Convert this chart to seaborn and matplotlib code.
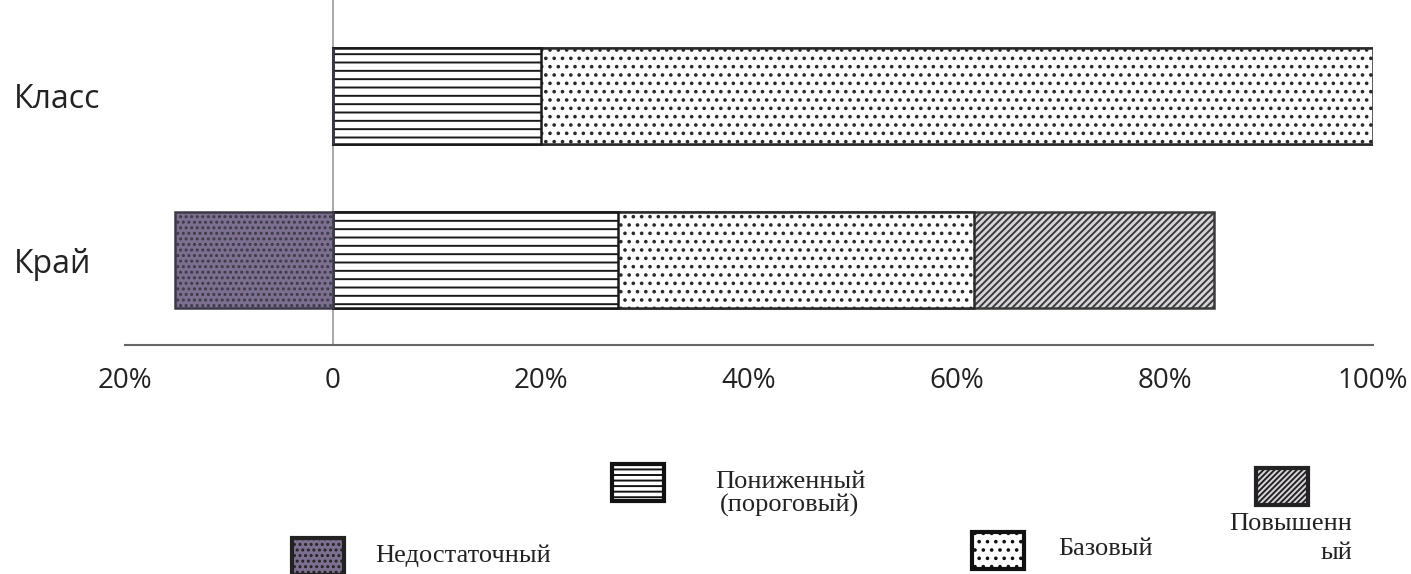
import numpy as np
import pandas as pd
import seaborn as sns
from matplotlib import pyplot as plt
from matplotlib.patches import Rectangle

sns.set_style('white')
plt.rcParams['font.family'] = ['Open Sans', 'DejaVu Sans']
plt.rcParams['hatch.linewidth'] = 1.4

# данные (проценты)
categories = ['Класс', 'Край']
insufficient = [0, 15.2]      # Недостаточный (влево от нуля)
lowered = [20, 27.4]          # Пониженный (пороговый)
basic = [80, 34.2]            # Базовый
advanced = [0, 23.1]          # Повышенный
x_ticks = [-20, 0, 20, 40, 60, 80, 100]
x_labels = ['20%', '0', '20%', '40%', '60%', '80%', '100%']

W, H = 1411, 574
fig = plt.figure(figsize=(W / 100, H / 100), dpi=100)
ax = fig.add_axes([125 / W, (H - 345) / H, (1373 - 125) / W, 345 / H])

cum1 = np.array(lowered)
cum2 = cum1 + np.array(basic)
cum3 = cum2 + np.array(advanced)
neg = -np.array(insufficient)

bar_kw = dict(orient='h', width=0.59, errorbar=None, saturation=1, ax=ax)
# рисуем накопленные суммы от большей к меньшей
sns.barplot(x=cum3, y=categories, color='#d8d4da', hatch='/////',
            edgecolor='#3a3a3a', linewidth=1.8, **bar_kw)
sns.barplot(x=cum2, y=categories, color='white', hatch='..',
            edgecolor='#2a2a2a', linewidth=1.8, **bar_kw)
sns.barplot(x=cum1, y=categories, color='white', hatch='--',
            edgecolor='#1a1a1a', linewidth=1.8, **bar_kw)
sns.barplot(x=neg, y=categories, color='#7d6f90', hatch='...',
            edgecolor='#3c3a48', linewidth=1.8, **bar_kw)

ax.axvline(0, color='#999999', lw=1.2, zorder=0)
ax.set_xlim(-20, 100)
ax.set_ylim(1.518, -0.585)
ax.set_xticks(x_ticks)
ax.set_xticklabels(x_labels, fontsize=20, color='#222222')
ax.tick_params(axis='x', direction='out', length=8, width=1.2, color='#666666', pad=8)
ax.tick_params(axis='y', length=0, pad=80, labelsize=23)
for lab in ax.get_yticklabels():
    lab.set_horizontalalignment('left')
    lab.set_color('#222222')
ax.set_xlabel('')
ax.set_ylabel('')
for s in ['top', 'right', 'left']:
    ax.spines[s].set_visible(False)
ax.spines['bottom'].set_color('#666666')
ax.spines['bottom'].set_linewidth(1.5)

# легенда
def fx(x):
    return x / W

def fy(y):
    return 1 - y / H

legend_items = [
    ((292, 538), '#7d6f90', '...', '#222222'),
    ((612, 464), 'white', '---', '#111111'),
    ((972, 532), 'white', '..', '#111111'),
    ((1256, 468), '#d8d4da', '//////', '#222222'),
]
pw, ph = 52, 37
for (px, py), fc, hatch, ec in legend_items:
    fig.add_artist(Rectangle((fx(px), fy(py + ph)), pw / W, ph / H,
                             transform=fig.transFigure, facecolor=fc,
                             hatch=hatch, edgecolor=ec, linewidth=3))

serif = dict(family='Liberation Serif', fontsize=19, color='#222222', va='center')
fig.text(fx(790), fy(494), 'Пониженный\n(пороговый)', ha='center', linespacing=1.1, **serif)
fig.text(fx(375), fy(556), 'Недостаточный', ha='left', **serif)
fig.text(fx(1058), fy(549), 'Базовый', ha='left', **serif)
fig.text(fx(1352), fy(524), 'Повышенн', ha='right', **serif)
fig.text(fx(1352), fy(553), 'ый', ha='right', **serif)

plt.savefig('out.png', dpi=100)
